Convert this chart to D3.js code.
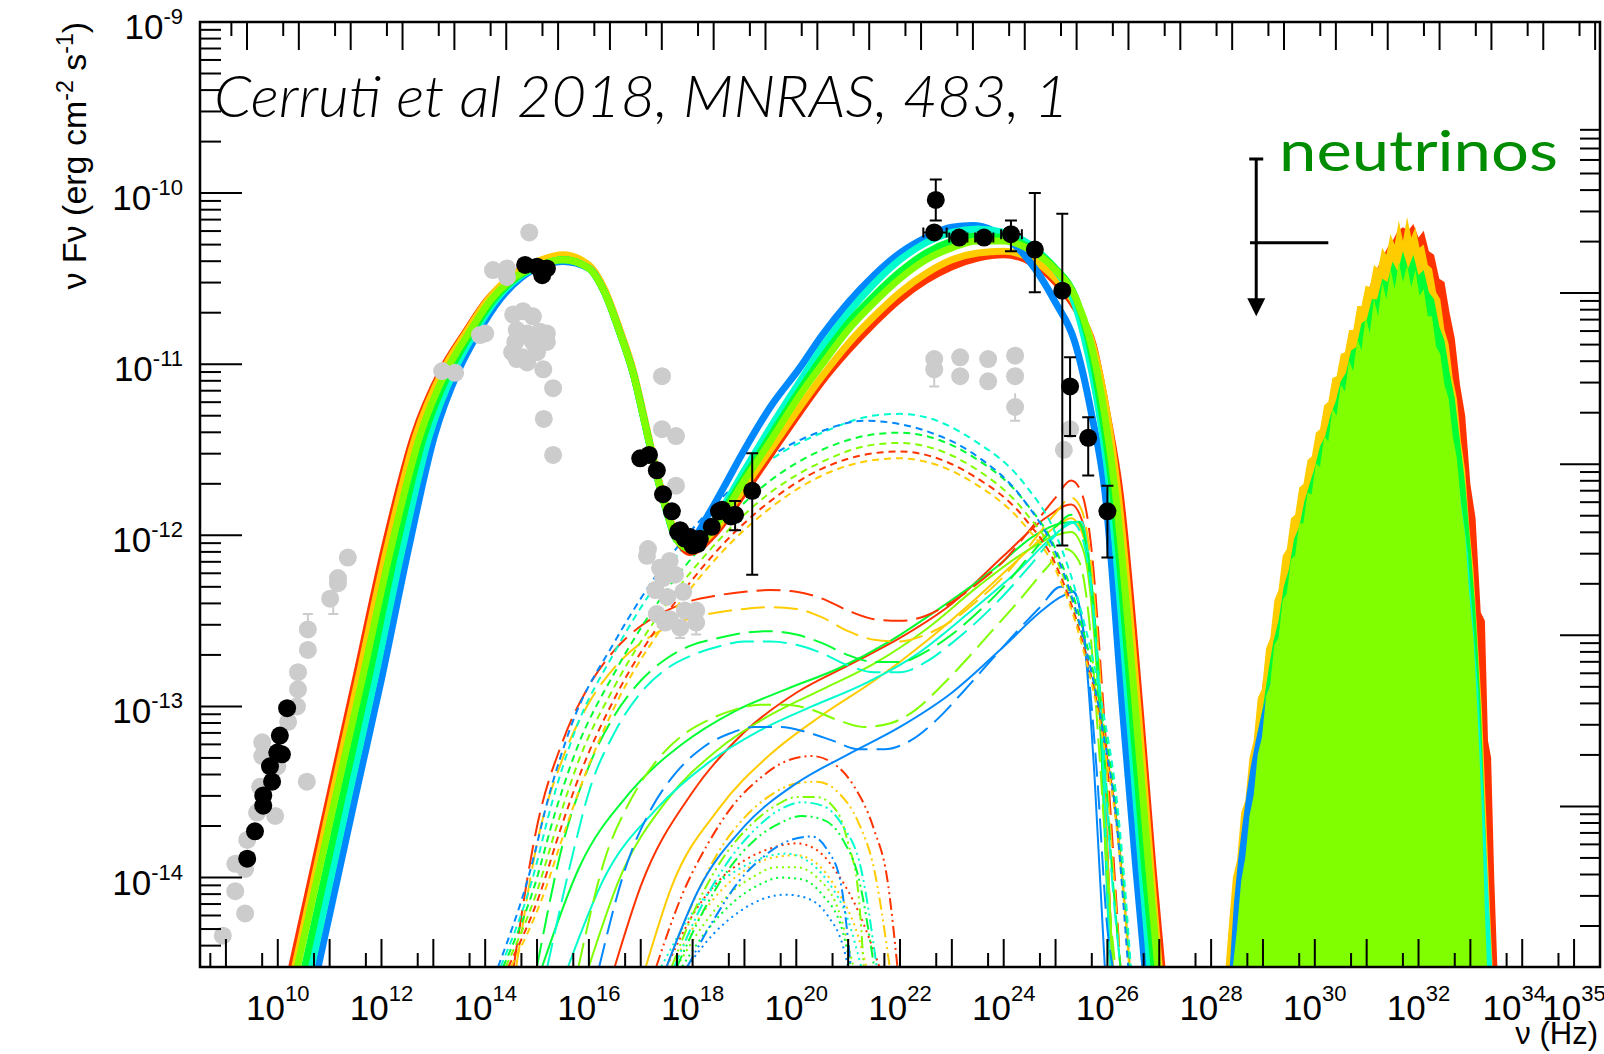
<!DOCTYPE html>
<html><head><meta charset="utf-8">
<script src="https://cdn.jsdelivr.net/npm/d3@7"></script>
<style>body{margin:0;background:#fff} svg{display:block}</style>
</head><body>
<script>
// values are log10(nu / Hz) and log10(nuFnu / erg cm-2 s-1)
var modelColors = ["#ff3300", "#ffcc00", "#80ff00", "#00ff33", "#00ffcc", "#0088ff"];

// thick total models: red, orange, chartreuse, green, cyan, blue
var totalRed = [[10.27,-14.52],[11.0,-13.52],[11.5,-12.84],[12.05,-12.08],[12.62,-11.42],[13.15,-11.04],[13.6,-10.82],[14.05,-10.62],[14.52,-10.49],[15.0,-10.41],[15.5,-10.37],[16.0,-10.43],[16.3,-10.57],[16.6,-10.81],[16.85,-11.04],[17.12,-11.39],[17.31,-11.64],[17.5,-11.85],[17.7,-12.02],[17.95,-12.1],[18.4,-12.0],[19,-11.75],[19.5,-11.53],[20.07,-11.28],[20.5,-11.1],[21,-10.92],[21.5,-10.76],[22,-10.62],[22.5,-10.51],[23,-10.43],[23.5,-10.38],[24,-10.36],[24.5,-10.4],[25,-10.52],[25.4,-10.68],[25.72,-10.88],[26.0,-11.3],[26.24,-11.74],[26.64,-13.05],[26.88,-13.95],[27.05,-14.52]];
var totalOrange = [[10.33,-14.52],[11.05,-13.52],[11.55,-12.84],[12.1,-12.08],[12.66,-11.42],[13.18,-11.04],[13.62,-10.82],[14.06,-10.62],[14.52,-10.48],[15.0,-10.4],[15.5,-10.36],[16.0,-10.42],[16.3,-10.56],[16.6,-10.8],[16.85,-11.03],[17.12,-11.38],[17.31,-11.63],[17.5,-11.84],[17.7,-12.01],[17.95,-12.08],[18.4,-11.98],[19,-11.72],[19.5,-11.5],[20.07,-11.25],[20.5,-11.07],[21,-10.88],[21.5,-10.72],[22,-10.58],[22.5,-10.47],[23,-10.39],[23.5,-10.35],[24,-10.34],[24.5,-10.38],[25,-10.5],[25.4,-10.66],[25.7,-10.87],[26.0,-11.3],[26.2,-11.74],[26.6,-13.05],[26.84,-13.95],[27.0,-14.52]];
var totalChartreuse = [[10.38,-14.52],[11.12,-13.52],[11.63,-12.84],[12.18,-12.08],[12.74,-11.42],[13.25,-11.04],[13.68,-10.82],[14.12,-10.62],[14.58,-10.49],[15.05,-10.42],[15.5,-10.39],[16.0,-10.44],[16.3,-10.58],[16.6,-10.82],[16.85,-11.05],[17.12,-11.4],[17.31,-11.65],[17.5,-11.86],[17.7,-12.03],[17.95,-12.08],[18.4,-11.96],[19,-11.68],[19.5,-11.45],[20.07,-11.18],[20.5,-11.0],[21,-10.8],[21.5,-10.64],[22,-10.5],[22.5,-10.39],[23,-10.32],[23.5,-10.28],[24,-10.28],[24.5,-10.33],[25,-10.45],[25.4,-10.62],[25.65,-10.84],[25.95,-11.3],[26.15,-11.74],[26.55,-13.05],[26.8,-13.95],[26.97,-14.52]];
var totalGreen = [[10.52,-14.52],[11.25,-13.52],[11.75,-12.84],[12.28,-12.08],[12.82,-11.42],[13.32,-11.04],[13.73,-10.82],[14.17,-10.62],[14.62,-10.49],[15.08,-10.42],[15.5,-10.39],[16.0,-10.44],[16.3,-10.58],[16.6,-10.82],[16.85,-11.05],[17.12,-11.4],[17.31,-11.65],[17.5,-11.86],[17.7,-12.03],[17.95,-12.07],[18.4,-11.94],[19,-11.66],[19.5,-11.42],[20.07,-11.15],[20.5,-10.96],[21,-10.76],[21.5,-10.6],[22,-10.46],[22.5,-10.35],[23,-10.28],[23.5,-10.25],[24,-10.26],[24.5,-10.32],[25,-10.44],[25.4,-10.62],[25.62,-10.84],[25.9,-11.3],[26.1,-11.74],[26.48,-13.05],[26.72,-13.95],[26.9,-14.52]];
var totalCyan = [[10.65,-14.52],[11.37,-13.52],[11.87,-12.84],[12.4,-12.08],[12.92,-11.42],[13.4,-11.04],[13.79,-10.82],[14.22,-10.62],[14.66,-10.49],[15.1,-10.42],[15.5,-10.39],[16.0,-10.44],[16.3,-10.58],[16.6,-10.82],[16.85,-11.05],[17.12,-11.4],[17.31,-11.65],[17.5,-11.86],[17.7,-12.03],[17.95,-12.06],[18.4,-11.92],[19,-11.62],[19.5,-11.37],[20.07,-11.1],[20.5,-10.9],[21,-10.7],[21.5,-10.53],[22,-10.39],[22.5,-10.29],[23,-10.23],[23.5,-10.21],[24,-10.23],[24.5,-10.3],[25,-10.45],[25.35,-10.63],[25.55,-10.84],[25.85,-11.3],[26.05,-11.74],[26.42,-13.05],[26.66,-13.95],[26.82,-14.52]];
var totalBlue = [[10.78,-14.52],[11.5,-13.52],[12.0,-12.84],[12.52,-12.08],[13.02,-11.42],[13.48,-11.04],[13.86,-10.82],[14.29,-10.62],[14.71,-10.49],[15.15,-10.42],[15.5,-10.4],[16.0,-10.44],[16.3,-10.58],[16.6,-10.82],[16.85,-11.05],[17.12,-11.4],[17.31,-11.65],[17.5,-11.86],[17.7,-12.02],[17.95,-12.03],[18.3,-11.88],[18.6,-11.72],[19,-11.5],[19.5,-11.25],[20.07,-11.02],[20.5,-10.83],[21,-10.64],[21.5,-10.48],[22,-10.35],[22.5,-10.26],[23,-10.2],[23.4,-10.19],[23.8,-10.22],[24.2,-10.3],[24.6,-10.44],[25.0,-10.64],[25.36,-10.86],[25.7,-11.3],[25.95,-11.74],[26.3,-13.05],[26.55,-13.95],[26.72,-14.52]];
var totalCurves = [totalRed, totalOrange, totalChartreuse, totalGreen, totalCyan, totalBlue];

// short-dashed components
var shortDashCurves = [
  [[14.45,-14.52],[15.05,-14.1],[15.45,-13.72],[15.85,-13.38],[16.5,-12.95],[17.5,-12.46],[18.5,-12.08],[19.5,-11.8],[20.5,-11.61],[21.5,-11.52],[22.0,-11.51],[22.5,-11.53],[23.4,-11.65],[24.4,-11.9],[25.0,-12.17],[25.5,-12.6],[25.9,-13.14],[26.2,-13.74],[26.35,-14.22],[26.43,-14.52]],
  [[14.5,-14.52],[15.1,-14.12],[15.5,-13.76],[15.9,-13.42],[16.5,-13.0],[17.5,-12.5],[18.5,-12.12],[19.5,-11.84],[20.5,-11.65],[21.5,-11.56],[22.0,-11.55],[22.5,-11.57],[23.4,-11.69],[24.4,-11.94],[25.0,-12.2],[25.5,-12.63],[25.9,-13.17],[26.2,-13.77],[26.35,-14.25],[26.42,-14.52]],
  [[14.4,-14.52],[15.0,-14.08],[15.4,-13.68],[15.8,-13.32],[16.5,-12.88],[17.5,-12.4],[18.5,-12.03],[19.5,-11.75],[20.5,-11.57],[21.5,-11.47],[22.0,-11.46],[22.5,-11.48],[23.4,-11.6],[24.4,-11.86],[25.0,-12.13],[25.5,-12.57],[25.9,-13.1],[26.2,-13.7],[26.35,-14.2],[26.43,-14.52]],
  [[14.35,-14.52],[14.95,-14.05],[15.35,-13.62],[15.75,-13.26],[16.5,-12.8],[17.5,-12.32],[18.5,-11.96],[19.5,-11.68],[20.5,-11.5],[21.5,-11.41],[22.0,-11.4],[22.5,-11.42],[23.4,-11.54],[24.4,-11.8],[25.0,-12.08],[25.5,-12.52],[25.9,-13.06],[26.2,-13.66],[26.35,-14.15],[26.44,-14.52]],
  [[14.3,-14.52],[14.9,-14.02],[15.3,-13.55],[15.7,-13.17],[16.5,-12.68],[17.5,-12.2],[18.5,-11.84],[19.5,-11.56],[20.5,-11.4],[21.5,-11.3],[22.0,-11.29],[22.5,-11.31],[23.4,-11.44],[24.4,-11.7],[25.0,-11.99],[25.5,-12.45],[25.9,-13.0],[26.2,-13.6],[26.35,-14.1],[26.45,-14.52]],
  [[14.25,-14.52],[14.85,-13.98],[15.25,-13.5],[15.65,-13.12],[16.5,-12.62],[17.5,-12.15],[18.5,-11.8],[19.5,-11.54],[20.5,-11.39],[21.3,-11.33],[22.0,-11.35],[22.5,-11.39],[23.4,-11.52],[24.4,-11.8],[25.0,-12.1],[25.5,-12.56],[25.9,-13.12],[26.2,-13.75],[26.32,-14.2],[26.4,-14.52]]
];

// long-dashed components
var longDashCurves = [
  [[14.55,-14.52],[15,-13.7],[15.5,-13.2],[16,-12.88],[16.5,-12.67],[17,-12.53],[17.5,-12.44],[18,-12.38],[18.5,-12.35],[19,-12.33],[19.5,-12.32],[20,-12.33],[20.5,-12.37],[21,-12.44],[21.5,-12.49],[22,-12.5],[22.5,-12.47],[23,-12.39],[23.5,-12.28],[24,-12.15],[24.5,-11.97],[25,-11.78],[25.3,-11.68],[25.5,-11.75],[25.7,-12.1],[25.9,-12.9],[26.1,-13.8],[26.25,-14.52]],
  [[14.6,-14.52],[15,-13.8],[15.5,-13.3],[16,-12.98],[16.5,-12.77],[17,-12.63],[17.5,-12.54],[18,-12.48],[18.5,-12.45],[19,-12.43],[19.5,-12.42],[20,-12.43],[20.5,-12.48],[21,-12.56],[21.5,-12.61],[22,-12.62],[22.5,-12.58],[23,-12.5],[23.5,-12.38],[24,-12.24],[24.5,-12.06],[25,-11.87],[25.3,-11.78],[25.5,-11.85],[25.7,-12.2],[25.9,-13.0],[26.1,-13.9],[26.25,-14.52]],
  [[15.8,-14.52],[16.3,-13.9],[16.8,-13.55],[17.3,-13.32],[17.8,-13.17],[18.3,-13.08],[18.8,-13.02],[19.3,-12.99],[19.8,-12.99],[20.3,-13.02],[20.8,-13.08],[21.3,-13.12],[21.8,-13.1],[22.3,-13.02],[22.8,-12.88],[23.3,-12.72],[23.8,-12.55],[24.3,-12.38],[24.8,-12.2],[25.2,-12.08],[25.45,-12.15],[25.65,-12.5],[25.85,-13.3],[26.05,-14.2],[26.15,-14.52]],
  [[15.0,-14.52],[15.5,-13.8],[16,-13.35],[16.5,-13.05],[17,-12.85],[17.5,-12.72],[18,-12.64],[18.5,-12.6],[19,-12.57],[19.5,-12.56],[20,-12.58],[20.5,-12.63],[21,-12.7],[21.5,-12.74],[22,-12.74],[22.5,-12.68],[23,-12.58],[23.5,-12.45],[24,-12.3],[24.5,-12.12],[25,-11.95],[25.3,-11.88],[25.5,-11.95],[25.7,-12.3],[25.9,-13.1],[26.1,-14.0],[26.25,-14.52]],
  [[15.2,-14.52],[15.7,-13.85],[16,-13.5],[16.5,-13.15],[17,-12.92],[17.5,-12.78],[18,-12.7],[18.5,-12.65],[19,-12.62],[19.5,-12.62],[20,-12.64],[20.5,-12.69],[21,-12.76],[21.5,-12.8],[22,-12.8],[22.5,-12.74],[23,-12.63],[23.5,-12.5],[24,-12.35],[24.5,-12.18],[25,-12.0],[25.3,-11.92],[25.5,-12.0],[25.7,-12.35],[25.9,-13.15],[26.1,-14.05],[26.25,-14.52]],
  [[16.2,-14.52],[16.7,-13.95],[17.2,-13.6],[17.7,-13.38],[18.2,-13.24],[18.7,-13.16],[19.2,-13.12],[19.7,-13.12],[20.2,-13.15],[20.7,-13.2],[21.2,-13.25],[21.7,-13.25],[22.2,-13.2],[22.7,-13.08],[23.2,-12.92],[23.7,-12.75],[24.2,-12.58],[24.7,-12.42],[25.1,-12.3],[25.35,-12.33],[25.6,-12.7],[25.8,-13.4],[26.0,-14.3],[26.1,-14.52]]
];

// thin solid components
var solidCurves = [
  [[16.5,-14.52],[17,-14.05],[18,-13.5],[19,-13.15],[20,-12.92],[21,-12.76],[22,-12.6],[23,-12.4],[24,-12.12],[24.8,-11.9],[25.3,-11.82],[25.55,-11.95],[25.75,-12.5],[25.95,-13.5],[26.1,-14.52]],
  [[17.1,-14.52],[17.6,-14.05],[18.5,-13.6],[19.5,-13.28],[20.5,-13.05],[21.5,-12.85],[22.5,-12.62],[23.5,-12.36],[24.5,-12.08],[25.0,-11.95],[25.3,-11.9],[25.55,-12.02],[25.75,-12.55],[25.95,-13.55],[26.1,-14.52]],
  [[16.0,-14.52],[16.6,-14.0],[17.5,-13.55],[18.5,-13.25],[19.5,-13.05],[20.5,-12.9],[21.5,-12.75],[22.5,-12.55],[23.5,-12.3],[24.5,-12.08],[25.0,-12.0],[25.3,-11.98],[25.55,-12.1],[25.75,-12.6],[25.95,-13.6],[26.1,-14.52]],
  [[15.1,-14.52],[15.8,-13.95],[16.8,-13.5],[17.8,-13.22],[18.8,-13.03],[19.8,-12.9],[20.8,-12.78],[21.8,-12.62],[22.8,-12.42],[23.8,-12.2],[24.6,-12.0],[25.1,-11.93],[25.45,-11.92],[25.65,-12.2],[25.85,-13.0],[26.05,-14.52]],
  [[15.6,-14.52],[16.3,-14.0],[17.3,-13.6],[18.3,-13.33],[19.3,-13.14],[20.3,-13.0],[21.3,-12.87],[22.3,-12.7],[23.3,-12.46],[24.3,-12.2],[24.9,-12.02],[25.3,-11.93],[25.5,-11.92],[25.7,-12.3],[25.9,-13.2],[26.05,-14.52]],
  [[17.5,-14.52],[18.1,-14.08],[19.0,-13.7],[20.0,-13.45],[21.0,-13.28],[22.0,-13.12],[23.0,-12.92],[24.0,-12.65],[24.7,-12.45],[25.1,-12.36],[25.35,-12.33],[25.55,-12.6],[25.75,-13.4],[25.95,-14.52]]
];

// dash-dot-dot components
var dashDotCurves = [
  [[17.3,-14.52],[17.8,-14.1],[18.3,-13.8],[18.8,-13.57],[19.3,-13.42],[19.8,-13.32],[20.3,-13.29],[20.7,-13.33],[21.1,-13.46],[21.5,-13.72],[21.75,-14.0],[21.95,-14.52]],
  [[17.5,-14.52],[18,-14.15],[18.5,-13.85],[19,-13.65],[19.5,-13.52],[20,-13.45],[20.4,-13.44],[20.8,-13.5],[21.2,-13.68],[21.5,-13.95],[21.8,-14.52]],
  [[17.6,-14.52],[18.1,-14.15],[18.6,-13.88],[19.1,-13.7],[19.6,-13.58],[20.0,-13.53],[20.4,-13.53],[20.8,-13.62],[21.0,-13.8],[21.2,-14.1],[21.3,-14.52]],
  [[17.7,-14.52],[18.2,-14.2],[18.7,-13.95],[19.2,-13.78],[19.7,-13.68],[20.1,-13.64],[20.5,-13.66],[20.9,-13.78],[21.2,-14.0],[21.5,-14.52]],
  [[17.65,-14.52],[18.2,-14.15],[18.7,-13.9],[19.2,-13.72],[19.7,-13.6],[20.1,-13.56],[20.5,-13.58],[20.9,-13.7],[21.25,-13.95],[21.55,-14.52]],
  [[17.9,-14.52],[18.4,-14.25],[18.9,-14.02],[19.4,-13.87],[19.9,-13.78],[20.3,-13.76],[20.6,-13.84],[20.85,-14.02],[21.05,-14.52]]
];

// dotted components
var dottedCurves = [
  [[17.5,-14.52],[18.0,-14.22],[18.5,-14.02],[19,-13.9],[19.5,-13.83],[20,-13.8],[20.4,-13.84],[20.8,-13.98],[21.2,-14.2],[21.6,-14.52]],
  [[17.6,-14.52],[18.1,-14.25],[18.6,-14.06],[19.1,-13.94],[19.6,-13.88],[20,-13.87],[20.4,-13.92],[20.8,-14.08],[21.2,-14.35],[21.35,-14.52]],
  [[17.7,-14.52],[18.2,-14.28],[18.7,-14.1],[19.2,-13.99],[19.6,-13.94],[20,-13.94],[20.4,-14.0],[20.8,-14.18],[21.1,-14.52]],
  [[17.8,-14.52],[18.3,-14.3],[18.8,-14.14],[19.3,-14.04],[19.7,-14.0],[20.1,-14.01],[20.5,-14.1],[20.9,-14.32],[21.05,-14.52]],
  [[17.4,-14.52],[17.9,-14.25],[18.4,-14.06],[18.9,-13.95],[19.4,-13.88],[19.8,-13.86],[20.2,-13.9],[20.6,-14.02],[21.0,-14.25],[21.25,-14.52]],
  [[17.9,-14.52],[18.4,-14.33],[18.9,-14.2],[19.4,-14.12],[19.8,-14.1],[20.2,-14.12],[20.6,-14.22],[20.9,-14.4],[21.0,-14.52]]
];

// neutrino spectra (upper edges, filled to the axis)
var nuRed = [[28.34,-14.52],[28.42,-14.15],[28.5,-14.0],[28.6,-13.7],[28.7,-13.55],[28.8,-13.25],[28.9,-13.12],[29.0,-12.85],[29.1,-12.75],[29.2,-12.5],[29.3,-12.42],[29.4,-12.2],[29.5,-12.12],[29.6,-11.95],[29.7,-11.88],[29.8,-11.7],[29.9,-11.65],[30.0,-11.5],[30.1,-11.45],[30.2,-11.3],[30.3,-11.26],[30.4,-11.12],[30.5,-11.06],[30.6,-10.92],[30.7,-10.88],[30.8,-10.74],[30.9,-10.7],[31.0,-10.58],[31.1,-10.52],[31.2,-10.44],[31.3,-10.38],[31.4,-10.32],[31.5,-10.28],[31.6,-10.22],[31.7,-10.2],[31.8,-10.22],[31.9,-10.18],[32.0,-10.26],[32.1,-10.22],[32.2,-10.34],[32.3,-10.36],[32.4,-10.5],[32.5,-10.52],[32.6,-10.7],[32.7,-10.85],[32.8,-11.12],[32.9,-11.3],[33.0,-11.7],[33.1,-11.9],[33.2,-12.45],[33.28,-12.5],[33.34,-13.2],[33.4,-13.3],[33.46,-14.0],[33.52,-14.52]];
var nuOrange = [[28.28,-14.52],[28.35,-14.25],[28.42,-14.0],[28.5,-13.9],[28.58,-13.62],[28.66,-13.55],[28.74,-13.3],[28.82,-13.2],[28.9,-12.95],[28.98,-12.9],[29.06,-12.66],[29.14,-12.6],[29.22,-12.38],[29.3,-12.32],[29.38,-12.12],[29.46,-12.08],[29.54,-11.9],[29.62,-11.88],[29.7,-11.72],[29.78,-11.7],[29.86,-11.56],[29.94,-11.54],[30.02,-11.4],[30.1,-11.38],[30.18,-11.24],[30.26,-11.22],[30.34,-11.08],[30.42,-11.07],[30.5,-10.94],[30.58,-10.93],[30.66,-10.8],[30.74,-10.8],[30.82,-10.66],[30.9,-10.66],[30.98,-10.54],[31.06,-10.55],[31.14,-10.42],[31.22,-10.44],[31.3,-10.32],[31.38,-10.36],[31.46,-10.24],[31.54,-10.3],[31.62,-10.16],[31.7,-10.28],[31.78,-10.14],[31.86,-10.26],[31.94,-10.2],[32.02,-10.32],[32.1,-10.3],[32.18,-10.42],[32.26,-10.44],[32.34,-10.58],[32.42,-10.62],[32.5,-10.8],[32.58,-10.88],[32.66,-11.08],[32.74,-11.2],[32.82,-11.45],[32.9,-11.62],[32.98,-11.95],[33.06,-12.2],[33.14,-12.6],[33.22,-13.0],[33.3,-13.6],[33.38,-14.2],[33.43,-14.52]];
var nuGreen = [[28.42,-14.52],[28.5,-14.15],[28.6,-13.85],[28.7,-13.6],[28.8,-13.4],[28.9,-13.15],[29.0,-13.0],[29.1,-12.8],[29.2,-12.62],[29.3,-12.5],[29.4,-12.3],[29.5,-12.2],[29.6,-12.02],[29.7,-11.95],[29.8,-11.8],[29.9,-11.7],[30.0,-11.6],[30.1,-11.48],[30.2,-11.42],[30.3,-11.3],[30.4,-11.22],[30.5,-11.1],[30.6,-11.05],[30.7,-10.92],[30.8,-10.9],[30.9,-10.76],[31.0,-10.74],[31.1,-10.62],[31.2,-10.62],[31.3,-10.5],[31.4,-10.52],[31.5,-10.4],[31.6,-10.46],[31.7,-10.34],[31.8,-10.44],[31.9,-10.36],[32.0,-10.48],[32.1,-10.45],[32.2,-10.58],[32.3,-10.62],[32.4,-10.78],[32.5,-10.86],[32.6,-11.05],[32.7,-11.2],[32.8,-11.45],[32.9,-11.7],[33.0,-12.05],[33.1,-12.45],[33.2,-13.0],[33.3,-13.8],[33.36,-14.52]];
var nuCyan = [[28.38,-14.52],[28.47,-14.15],[28.56,-13.88],[28.66,-13.64],[28.76,-13.45],[28.9,-13.25],[29.05,-13.02],[29.2,-12.82],[29.4,-12.58],[29.6,-12.35],[29.8,-12.15],[30.0,-11.97],[30.2,-11.8],[30.4,-11.62],[30.6,-11.46],[30.8,-11.31],[31.0,-11.16],[31.2,-11.03],[31.4,-10.91],[31.6,-10.81],[31.8,-10.76],[32.0,-10.79],[32.2,-10.9],[32.4,-11.08],[32.6,-11.35],[32.8,-11.75],[32.95,-12.1],[33.05,-12.5],[33.15,-12.9],[33.25,-13.5],[33.35,-14.1],[33.42,-14.52]];
var nuBlue = [[28.36,-14.52],[28.44,-14.15],[28.52,-13.9],[28.6,-13.7],[28.68,-13.52],[28.76,-13.36],[28.86,-13.2],[28.98,-13.04],[29.1,-12.9],[29.3,-12.72],[29.5,-12.58],[29.75,-12.42],[30.0,-12.26],[30.25,-12.08],[30.5,-11.9],[30.75,-11.74],[31.0,-11.58],[31.25,-11.42],[31.5,-11.25],[31.75,-11.12],[31.95,-11.08],[32.15,-11.14],[32.35,-11.3],[32.55,-11.6],[32.75,-12.0],[32.9,-12.45],[33.0,-12.9],[33.1,-13.6],[33.18,-14.52]];
var nuChartreuse = [[28.42,-14.52],[28.5,-14.3],[28.58,-14.02],[28.66,-13.88],[28.74,-13.64],[28.82,-13.52],[28.9,-13.28],[28.98,-13.18],[29.06,-12.94],[29.14,-12.87],[29.22,-12.64],[29.3,-12.6],[29.38,-12.38],[29.46,-12.34],[29.54,-12.14],[29.62,-12.12],[29.7,-11.93],[29.78,-11.93],[29.86,-11.75],[29.94,-11.76],[30.02,-11.58],[30.1,-11.6],[30.18,-11.42],[30.26,-11.45],[30.34,-11.26],[30.42,-11.3],[30.5,-11.12],[30.58,-11.16],[30.66,-10.98],[30.74,-11.04],[30.82,-10.85],[30.9,-10.92],[30.98,-10.72],[31.06,-10.82],[31.14,-10.62],[31.22,-10.72],[31.3,-10.52],[31.38,-10.62],[31.46,-10.44],[31.54,-10.56],[31.62,-10.4],[31.7,-10.52],[31.78,-10.42],[31.86,-10.55],[31.94,-10.45],[32.02,-10.6],[32.1,-10.56],[32.18,-10.72],[32.26,-10.72],[32.34,-10.9],[32.42,-10.94],[32.5,-11.12],[32.58,-11.2],[32.66,-11.42],[32.74,-11.55],[32.82,-11.82],[32.9,-12.0],[32.98,-12.35],[33.06,-12.6],[33.14,-13.05],[33.22,-13.6],[33.28,-14.2],[33.32,-14.52]];
var nuCurves = [nuRed, nuOrange, nuGreen, nuCyan, nuBlue, nuChartreuse];
var nuColors = ["#ff3300", "#ffcc00", "#00ff33", "#00ffcc", "#0088ff", "#80ff00"];

// archival data (grey)
var greyPoints = [[11.35,-12.13],[11.16,-12.25],[11.16,-12.28],[11.01,-12.37],[10.58,-12.55],[10.58,-12.67],[10.39,-12.8],[10.39,-12.9],[10.37,-13.0],[10.2,-13.09],[9.7,-13.21],[9.7,-13.29],[9.99,-13.35],[10.56,-13.44],[9.66,-13.47],[9.6,-13.62],[9.95,-13.64],[9.41,-13.78],[9.18,-13.92],[9.37,-13.95],[9.18,-14.08],[9.37,-14.21],[8.94,-14.34],
  [14.85,-10.23],[14.15,-10.45],[14.42,-10.44],[14.42,-10.49],[13.9,-10.83],[14.0,-10.82],[13.17,-11.04],[13.42,-11.05],
  [14.54,-10.71],[14.73,-10.69],[14.92,-10.72],[14.61,-10.8],[14.81,-10.82],[15.06,-10.81],[15.19,-10.82],[14.58,-10.87],[14.92,-10.87],[15.19,-10.87],[14.52,-10.93],[14.73,-10.96],[15.0,-10.93],[14.61,-10.97],[14.81,-10.99],[15.12,-11.03],[15.31,-11.14],[15.13,-11.32],[15.31,-11.53],
  [17.41,-11.07],[17.41,-11.38],[17.68,-11.42],[17.68,-11.71],[17.14,-12.08],[17.12,-12.12],[17.37,-12.19],[17.56,-12.15],[17.43,-12.25],[17.66,-12.23],[17.28,-12.32],[17.51,-12.36],[17.82,-12.33],[17.31,-12.46],[17.56,-12.49],[17.85,-12.44],[18.07,-12.44],[18.07,-12.51],[17.47,-12.51],[17.76,-12.54],
  [22.66,-10.97],[22.66,-11.03],[23.16,-10.96],[23.16,-11.07],[23.7,-10.97],[23.7,-11.1],[24.22,-10.95],[24.22,-11.07],[24.22,-11.25],[25.16,-11.5],[25.28,-11.38]];
// grey error bars: [log nu, low, high]
var greyErrors = [[10.58,-12.55,-12.46],[11.07,-12.29,-12.46],[22.66,-10.93,-11.13],[24.22,-11.17,-11.33],[18.07,-12.44,-12.58],[17.76,-12.54,-12.6]];

// flare data (black)
var blackPoints = [[10.18,-13.01],[10.04,-13.17],[9.99,-13.27],[10.08,-13.28],[9.85,-13.35],[9.89,-13.44],[9.72,-13.52],[9.72,-13.58],[9.56,-13.73],[9.41,-13.89],
  [14.77,-10.42],[15.0,-10.43],[15.19,-10.44],[15.1,-10.48],
  [16.99,-11.55],[17.16,-11.53],[17.31,-11.62],[17.43,-11.76],[17.6,-11.86],[17.72,-11.98],[17.76,-11.97],[17.85,-12.02],[17.95,-12.01],[18.0,-12.06],[18.1,-12.05],[18.14,-12.02],[18.37,-11.95],[18.51,-11.86],[18.57,-11.85],[18.74,-11.89],[18.82,-11.88],[19.15,-11.74],
  [22.69,-10.04],[22.66,-10.23],[23.14,-10.26],[23.62,-10.26],[24.14,-10.24],[24.6,-10.33],[25.13,-10.57],[25.28,-11.13],[25.63,-11.43],[26.0,-11.86]];
// black vertical error bars: [log nu, low, high]
var blackYErrors = [[18.82,-11.97,-11.8],[19.15,-12.23,-11.52],[22.69,-10.16,-9.92],[24.14,-10.34,-10.16],[24.6,-10.58,-10.0],[25.13,-12.06,-10.12],[25.28,-11.42,-10.96],[25.63,-11.65,-11.31],[26.0,-12.13,-11.71]];
// black horizontal error bars: [log flux, low nu, high nu]
var blackXErrors = [[-10.23,22.45,22.9],[-10.26,22.95,23.3],[-10.26,23.45,23.8],[-10.24,23.95,24.35]];

// neutrino flux: [log nu, log flux, nu low, nu high, arrow tip, bar top]
var nuLimit = [28.87, -10.29, 28.75, 30.26, -10.72, -9.8];

var xTickLabels = [10,12,14,16,18,20,22,24,26,28,30,32,34,35];
var yTickLabels = [-14,-13,-12,-11,-10,-9];

var W = 1604, H = 1054;
var mL = 200, mR = 1600, mT = 22, mB = 967;

var svg = d3.select("body").append("svg").attr("width", W).attr("height", H);

var x = d3.scaleLog().domain([Math.pow(10, 8.5), Math.pow(10, 35.5)]).range([mL, mR]);
var y = d3.scaleLog().domain([3e-15, 1e-9]).range([mB, mT]);
function px(L) { return x(Math.pow(10, L)); }
function py(F) { return y(Math.pow(10, F)); }

svg.append("clipPath").attr("id", "plot")
  .append("rect").attr("x", mL).attr("y", mT).attr("width", mR - mL).attr("height", mB - mT);

var g = svg.append("g").attr("clip-path", "url(#plot)");

var line = d3.line().x(function(d) { return px(d[0]); }).y(function(d) { return py(d[1]); }).curve(d3.curveMonotoneX);
var area = d3.area().x(function(d) { return px(d[0]); }).y0(mB + 5).y1(function(d) { return py(d[1]); });

// thin components
function thin(curves, dash) {
  curves.forEach(function(c, i) {
    g.append("path").attr("d", line(c)).attr("fill", "none")
      .attr("stroke", modelColors[i]).attr("stroke-width", 2)
      .attr("stroke-dasharray", dash);
  });
}
thin(dottedCurves, "2,4");
thin(dashDotCurves, "12,4,2,4,2,4");
thin(solidCurves, null);
thin(longDashCurves, "24,9");
thin(shortDashCurves, "7,5");

// neutrino bump
nuCurves.forEach(function(c, i) {
  g.append("path").attr("d", area(c)).attr("fill", nuColors[i]).attr("stroke", "none");
});

// thick totals
[0,1,5,4,3,2].forEach(function(i) {
  g.append("path").attr("d", line(totalCurves[i])).attr("fill", "none")
    .attr("stroke", modelColors[i]).attr("stroke-width", 7);
});

// grey data
g.selectAll(".gerr").data(greyErrors).enter().append("path")
  .attr("d", function(d) {
    var xx = px(d[0]), y1 = py(d[1]), y2 = py(d[2]);
    return "M" + xx + "," + y1 + "V" + y2 + "M" + (xx - 5) + "," + y2 + "H" + (xx + 5);
  })
  .attr("stroke", "#cccccc").attr("stroke-width", 2).attr("fill", "none");
g.selectAll(".grey").data(greyPoints).enter().append("circle")
  .attr("cx", function(d) { return px(d[0]); }).attr("cy", function(d) { return py(d[1]); })
  .attr("r", 9).attr("fill", "#cccccc");

// black data
g.selectAll(".berr").data(blackYErrors).enter().append("path")
  .attr("d", function(d) {
    var xx = px(d[0]), y1 = py(d[1]), y2 = py(d[2]);
    return "M" + xx + "," + y1 + "V" + y2 + "M" + (xx - 6) + "," + y1 + "H" + (xx + 6) + "M" + (xx - 6) + "," + y2 + "H" + (xx + 6);
  })
  .attr("stroke", "#000").attr("stroke-width", 2).attr("fill", "none");
g.selectAll(".bxerr").data(blackXErrors).enter().append("path")
  .attr("d", function(d) {
    var yy = py(d[0]), x1 = px(d[1]), x2 = px(d[2]);
    return "M" + x1 + "," + yy + "H" + x2 + "M" + x1 + "," + (yy - 5) + "V" + (yy + 5) + "M" + x2 + "," + (yy - 5) + "V" + (yy + 5);
  })
  .attr("stroke", "#000").attr("stroke-width", 2).attr("fill", "none");
g.selectAll(".black").data(blackPoints).enter().append("circle")
  .attr("cx", function(d) { return px(d[0]); }).attr("cy", function(d) { return py(d[1]); })
  .attr("r", 9).attr("fill", "#000");

// neutrino upper limit
var ulx = px(nuLimit[0]), uly = py(nuLimit[1]), tip = py(nuLimit[4]), ultop = py(nuLimit[5]);
svg.append("path")
  .attr("d", "M" + px(nuLimit[2]) + "," + uly + "H" + px(nuLimit[3]) +
    "M" + ulx + "," + ultop + "V" + (tip - 14) + "M" + (ulx - 7) + "," + ultop + "H" + (ulx + 7))
  .attr("stroke", "#000").attr("stroke-width", 3).attr("fill", "none");
svg.append("path")
  .attr("d", "M" + (ulx - 9) + "," + (tip - 18) + "L" + (ulx + 9) + "," + (tip - 18) + "L" + ulx + "," + tip + "Z")
  .attr("fill", "#000");

// frame and ticks
var font = "'Liberation Sans', Arial, sans-serif";
var ticks = svg.append("g").attr("stroke", "#000").attr("stroke-width", 2);
d3.range(9, 36).forEach(function(n) {
  ticks.append("line").attr("x1", px(n)).attr("x2", px(n)).attr("y1", mB).attr("y2", mB - 28);
  ticks.append("line").attr("x1", px(n - 0.301)).attr("x2", px(n - 0.301)).attr("y1", mB).attr("y2", mB - 14);
});
d3.range(9, 36).forEach(function(n) {
  var a = n + 0.406, b = n + 0.105;
  if (a < 35.5) ticks.append("line").attr("x1", px(a)).attr("x2", px(a)).attr("y1", mT).attr("y2", mT + 28);
  if (b < 35.5) ticks.append("line").attr("x1", px(b)).attr("x2", px(b)).attr("y1", mT).attr("y2", mT + 14);
});
d3.range(-15, -9).forEach(function(n) {
  for (var m = 1; m < 10; m++) {
    var v = Math.log10(m) + n;
    var len = m === 1 ? 42 : 21;
    if (v >= Math.log10(3e-15) && v <= -9) {
      ticks.append("line").attr("x1", mL).attr("x2", mL + len).attr("y1", py(v)).attr("y2", py(v));
    }
    var yr = py(v) + 100;
    var lr = m === 1 ? 40 : 20;
    if (yr > mT && yr < mB) {
      ticks.append("line").attr("x1", mR).attr("x2", mR - lr).attr("y1", yr).attr("y2", yr);
    }
  }
});
svg.append("rect").attr("x", mL).attr("y", mT).attr("width", mR - mL).attr("height", mB - mT)
  .attr("fill", "none").attr("stroke", "#000").attr("stroke-width", 2.5);

// tick labels
xTickLabels.forEach(function(e) {
  var t = svg.append("text").attr("x", px(e) + (e === 34 ? -8 : 0)).attr("y", 1020)
    .attr("text-anchor", "middle").attr("font-family", font).attr("font-size", 35);
  t.append("tspan").text("10");
  t.append("tspan").attr("dy", -19).attr("font-size", 22).text(e);
});
yTickLabels.forEach(function(e) {
  var t = svg.append("text").attr("x", 183).attr("y", py(e) + 17)
    .attr("text-anchor", "end").attr("font-family", font).attr("font-size", 35);
  t.append("tspan").text("10");
  t.append("tspan").attr("dy", -15).attr("font-size", 22).text(e);
});

// axis titles
var yt = svg.append("text").attr("transform", "translate(86,22) rotate(-90)")
  .attr("text-anchor", "end").attr("font-family", font).attr("font-size", 34);
yt.append("tspan").text("\u03bd F\u03bd (erg cm");
yt.append("tspan").attr("dy", -13).attr("font-size", 23).text("-2");
yt.append("tspan").attr("dy", 13).text(" s");
yt.append("tspan").attr("dy", -13).attr("font-size", 23).text("-1");
yt.append("tspan").attr("dy", 13).text(")");

svg.append("text").attr("x", 1598).attr("y", 1044).attr("text-anchor", "end")
  .attr("font-family", font).attr("font-size", 31).text("\u03bd (Hz)");

svg.append("text").attr("x", 214).attr("y", 117)
  .attr("font-family", "Lato, 'Open Sans', sans-serif").attr("font-style", "italic").attr("font-weight", 300)
  .attr("font-size", 58).attr("textLength", 855).attr("lengthAdjust", "spacingAndGlyphs")
  .text("Cerruti et al 2018, MNRAS, 483, 1");

svg.append("text").attr("x", 1279).attr("y", 171)
  .attr("font-family", "Lato, 'Open Sans', sans-serif").attr("font-size", 57).attr("fill", "#008c00")
  .attr("textLength", 279).attr("lengthAdjust", "spacingAndGlyphs")
  .text("neutrinos");
</script>
</body></html>
